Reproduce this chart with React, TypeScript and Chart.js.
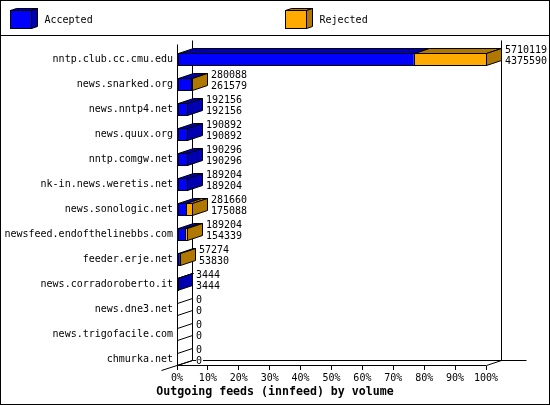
import React, { useEffect, useRef } from "react";
import { Chart, registerables } from "chart.js";

Chart.register(...registerables);

const servers = [
  "nntp.club.cc.cmu.edu", "news.snarked.org", "news.nntp4.net", "news.quux.org",
  "nntp.comgw.net", "nk-in.news.weretis.net", "news.sonologic.net",
  "newsfeed.endofthelinebbs.com", "feeder.erje.net", "news.corradoroberto.it",
  "news.dne3.net", "news.trigofacile.com", "chmurka.net",
];
const offered = [5710119, 280088, 192156, 190892, 190296, 189204, 281660, 189204, 57274, 3444, 0, 0, 0];
const accepted = [4375590, 261579, 192156, 190892, 190296, 189204, 175088, 154339, 53830, 3444, 0, 0, 0];
const seriesNames = ["Accepted", "Rejected"];
const frontColors = ["#0000ff", "#ffaa00"];
const darkColors = ["#0000b0", "#b07800"];
const titleText = "Outgoing feeds (innfeed) by volume";

const peak = Math.max(...offered);
const acceptedPct = accepted.map((v) => (v / peak) * 100);
const rejectedPct = offered.map((v, i) => ((v - accepted[i]) / peak) * 100);

const MONO = "'DejaVu Sans Mono', monospace";
const DX = 15;
const DY = 5;
const SHIFT = 6;

function poly(ctx: CanvasRenderingContext2D, pts: number[][], fill: string) {
  ctx.beginPath();
  pts.forEach(([x, y], i) => (i ? ctx.lineTo(x, y) : ctx.moveTo(x, y)));
  ctx.closePath();
  ctx.fillStyle = fill;
  ctx.fill();
  ctx.stroke();
}

function seg(ctx: CanvasRenderingContext2D, x0: number, y0: number, x1: number, y1: number) {
  ctx.beginPath();
  ctx.moveTo(x0, y0);
  ctx.lineTo(x1, y1);
  ctx.stroke();
}

const box3d = {
  id: "box3d",
  beforeDraw(chart: any) {
    const { ctx, width, height } = chart;
    ctx.save();
    ctx.fillStyle = "#fff";
    ctx.fillRect(0, 0, width, height);
    ctx.strokeStyle = "#000";
    ctx.lineWidth = 1;
    ctx.strokeRect(0.5, 0.5, width - 1, height - 1);
    seg(ctx, 0, 35.5, width, 35.5);
    // legend
    const starts = [10, 285];
    seriesNames.forEach((name, i) => {
      const x = starts[i] + 0.5;
      const r = x + 21;
      const t = 10.5;
      const b = 28.5;
      poly(ctx, [[x, t], [r, t], [r + 6, t - 2], [x + 6, t - 2]], darkColors[i]);
      poly(ctx, [[r, t], [r + 6, t - 2], [r + 6, b - 2], [r, b]], darkColors[i]);
      ctx.fillStyle = frontColors[i];
      ctx.fillRect(x, t, 21, 18);
      ctx.strokeRect(x, t, 21, 18);
      ctx.fillStyle = "#000";
      ctx.font = `10px ${MONO}`;
      ctx.textAlign = "left";
      ctx.textBaseline = "middle";
      ctx.fillText(name, r + 13, 20);
    });
    // title
    ctx.font = `bold 11.6px ${MONO}`;
    ctx.textAlign = "center";
    ctx.textBaseline = "middle";
    ctx.fillStyle = "#000";
    ctx.fillText(titleText, 275, 392);
    ctx.restore();
  },
  beforeDatasetsDraw(chart: any) {
    const { ctx, chartArea } = chart;
    const L = Math.round(chartArea.left) + 0.5;
    const R = Math.round(chartArea.right) + 0.5;
    const B = Math.round(chartArea.bottom) - 0.5;
    const T = Math.round(chartArea.top) - 0.5;
    ctx.save();
    ctx.strokeStyle = "#000";
    ctx.lineWidth = 1;
    seg(ctx, L + DX, T, L + DX, B - DY);
    seg(ctx, L, T + 4, L, B);
    seg(ctx, R + DX, T, R + DX, B - DY);
    seg(ctx, L + DX, B - DY, R + 40, B - DY);
    seg(ctx, L, B, R, B);
    seg(ctx, L - DX - 1, B + 5, L + DX, B - DY);
    seg(ctx, R, B, R + DX, B - DY);
    const m0 = chart.getDatasetMeta(0).data;
    const m1 = chart.getDatasetMeta(1).data;
    m0.forEach((el: any, i: number) => {
      const t = el.y - el.height / 2 + SHIFT + 0.5;
      const b = el.y + el.height / 2 + SHIFT - 0.5;
      const x0 = Math.round(el.base) + 0.5;
      const x1 = Math.round(el.x) + 0.5;
      const x2 = Math.round(m1[i].x) + 0.5;
      const top = (a: number, c: number, f: string) =>
        poly(ctx, [[a, t], [c, t], [c + DX, t - DY], [a + DX, t - DY]], f);
      const side = (a: number, f: string) =>
        poly(ctx, [[a, t], [a + DX, t - DY], [a + DX, b - DY], [a, b]], f);
      if (offered[i] === 0) {
        seg(ctx, x0, t, x0 + DX, t - DY);
        seg(ctx, x0, b, x0 + DX, b - DY);
        return;
      }
      top(x0, x1, darkColors[0]);
      if (offered[i] > accepted[i]) {
        top(x1, x2, darkColors[1]);
        side(x2, darkColors[1]);
      } else {
        side(x1, darkColors[0]);
      }
    });
    ctx.restore();
    ctx.save();
    ctx.translate(0, SHIFT);
  },
  afterDatasetsDraw(chart: any) {
    const { ctx } = chart;
    ctx.restore();
    ctx.save();
    ctx.strokeStyle = "#000";
    ctx.lineWidth = 1;
    const m0 = chart.getDatasetMeta(0).data;
    const m1 = chart.getDatasetMeta(1).data;
    m0.forEach((el: any, i: number) => {
      const cy = el.y + SHIFT;
      const t = el.y - el.height / 2 + SHIFT + 0.5;
      const b = el.y + el.height / 2 + SHIFT - 0.5;
      const x0 = Math.round(el.base) + 0.5;
      const x1 = Math.round(el.x) + 0.5;
      const x2 = Math.round(m1[i].x) + 0.5;
      if (offered[i] > 0) {
        ctx.strokeRect(x0, t, x1 - x0, b - t);
        if (x2 > x1) ctx.strokeRect(x1, t, x2 - x1, b - t);
      }
      const lx = x2 + DX + 3.5;
      const rows: [number, number][] = [[offered[i], cy - 9.5], [accepted[i], cy + 1.5]];
      ctx.font = `10px ${MONO}`;
      ctx.textAlign = "left";
      ctx.textBaseline = "middle";
      rows.forEach(([v, y]) => {
        const s = String(v);
        ctx.fillStyle = "#fff";
        ctx.fillRect(lx, y - 4, ctx.measureText(s).width + 1, 8);
        ctx.fillStyle = "#000";
        ctx.fillText(s, lx, y);
      });
    });
    ctx.restore();
  },
};

export default function App() {
  const ref = useRef<HTMLCanvasElement>(null);
  useEffect(() => {
    const chart = new Chart(ref.current as HTMLCanvasElement, {
      type: "bar",
      data: {
        labels: servers,
        datasets: [
          { label: seriesNames[0], data: acceptedPct, backgroundColor: frontColors[0], clip: false },
          { label: seriesNames[1], data: rejectedPct, backgroundColor: frontColors[1], clip: false },
        ] as any,
      },
      plugins: [box3d as any],
      options: {
        indexAxis: "y",
        responsive: false,
        animation: false,
        barThickness: 13,
        borderWidth: 0,
        inflateAmount: 0,
        layout: { padding: { left: 0, top: 41, right: 64, bottom: 0 } },
        plugins: {
          legend: { display: false },
          tooltip: { enabled: false },
          title: { display: false },
        },
        scales: {
          x: {
            stacked: true,
            min: 0,
            max: 100,
            afterFit: (s: any) => { s.height = 39; },
            border: { display: false },
            grid: { drawOnChartArea: false, drawTicks: true, tickLength: 4, color: "#000", tickWidth: 1 },
            ticks: {
              stepSize: 10,
              maxRotation: 0,
              padding: 2,
              color: "#000",
              font: { family: MONO, size: 10 },
              callback: (v: any) => `${v}%`,
            },
          },
          y: {
            stacked: true,
            afterFit: (s: any) => { s.width = 177; },
            border: { display: false },
            grid: { display: false, drawTicks: false, tickLength: 0 },
            ticks: {
              autoSkip: false,
              padding: 4,
              labelOffset: 5.5,
              color: "#000",
              font: { family: MONO, size: 10 },
            },
          },
        },
      } as any,
    });
    return () => chart.destroy();
  }, []);
  return (
    <canvas
      ref={ref}
      width={550}
      height={405}
      style={{ position: "fixed", left: 0, top: 0, display: "block" }}
    />
  );
}
